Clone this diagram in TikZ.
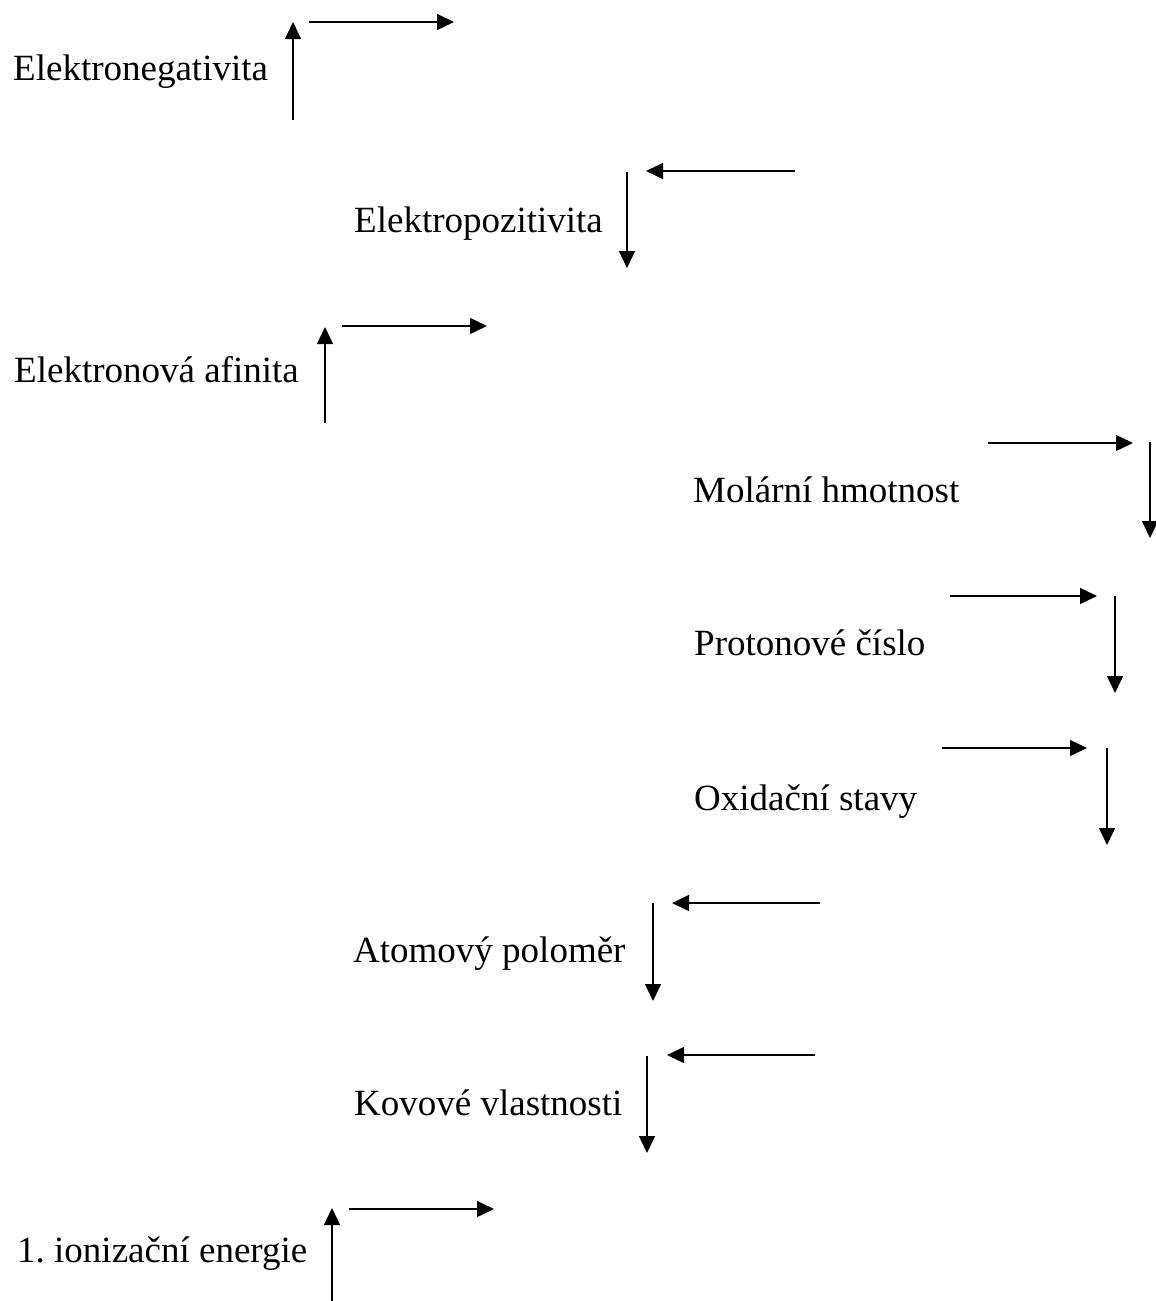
\documentclass[tikz,border=0pt]{standalone}
\usepackage{fontspec}
\setmainfont{Liberation Serif}
\usetikzlibrary{arrows.meta}
\tikzset{
  sipka/.style={line width=1.4pt, -{Triangle[length=17pt,width=16pt]}},
  popis/.style={anchor=base west, inner sep=0pt, font=\fontsize{37}{44}\selectfont}
}
\begin{document}
\begin{tikzpicture}[x=1pt, y=-1pt]
  \useasboundingbox (0,0) rectangle (1156,1301);

  \node[popis] (neg) at (13,80) {Elektronegativita};
  \node[popis] (poz) at (354,232) {Elektropozitivita};
  \node[popis] (afin) at (14,382) {Elektronová afinita};
  \node[popis] (mol) at (693,502) {Molární hmotnost};
  \node[popis] (prot) at (694,655) {Protonové číslo};
  \node[popis] (oxid) at (694,810) {Oxidační stavy};
  \node[popis] (atom) at (353,962) {Atomový poloměr};
  \node[popis] (kov) at (354,1115) {Kovové vlastnosti};
  \node[popis] (ion) at (17,1262) {1.\ ionizační energie};

  \coordinate (neg-u1) at (293,120);  \coordinate (neg-u2) at (293,22);
  \coordinate (neg-r1) at (309,22);   \coordinate (neg-r2) at (454,22);
  \coordinate (poz-d1) at (627,172);  \coordinate (poz-d2) at (627,268);
  \coordinate (poz-l1) at (795,171);  \coordinate (poz-l2) at (646,171);
  \coordinate (afin-u1) at (325,423); \coordinate (afin-u2) at (325,327);
  \coordinate (afin-r1) at (342,326); \coordinate (afin-r2) at (487,326);
  \coordinate (mol-r1) at (988,443);  \coordinate (mol-r2) at (1133,443);
  \coordinate (mol-d1) at (1150,442); \coordinate (mol-d2) at (1150,538);
  \coordinate (prot-r1) at (950,596); \coordinate (prot-r2) at (1097,596);
  \coordinate (prot-d1) at (1115,596); \coordinate (prot-d2) at (1115,693);
  \coordinate (oxid-r1) at (942,748); \coordinate (oxid-r2) at (1087,748);
  \coordinate (oxid-d1) at (1107,748); \coordinate (oxid-d2) at (1107,845);
  \coordinate (atom-l1) at (820,903); \coordinate (atom-l2) at (672,903);
  \coordinate (atom-d1) at (653,903); \coordinate (atom-d2) at (653,1001);
  \coordinate (kov-l1) at (815,1055); \coordinate (kov-l2) at (667,1055);
  \coordinate (kov-d1) at (647,1056); \coordinate (kov-d2) at (647,1153);
  \coordinate (ion-u1) at (332,1301); \coordinate (ion-u2) at (332,1208);
  \coordinate (ion-r1) at (349,1209); \coordinate (ion-r2) at (494,1209);

  \draw[sipka] (neg-u1) -- (neg-u2);
  \draw[sipka] (neg-r1) -- (neg-r2);
  \draw[sipka] (poz-d1) -- (poz-d2);
  \draw[sipka] (poz-l1) -- (poz-l2);
  \draw[sipka] (afin-u1) -- (afin-u2);
  \draw[sipka] (afin-r1) -- (afin-r2);
  \draw[sipka] (mol-r1) -- (mol-r2);
  \draw[sipka] (mol-d1) -- (mol-d2);
  \draw[sipka] (prot-r1) -- (prot-r2);
  \draw[sipka] (prot-d1) -- (prot-d2);
  \draw[sipka] (oxid-r1) -- (oxid-r2);
  \draw[sipka] (oxid-d1) -- (oxid-d2);
  \draw[sipka] (atom-l1) -- (atom-l2);
  \draw[sipka] (atom-d1) -- (atom-d2);
  \draw[sipka] (kov-l1) -- (kov-l2);
  \draw[sipka] (kov-d1) -- (kov-d2);
  \draw[sipka] (ion-u1) -- (ion-u2);
  \draw[sipka] (ion-r1) -- (ion-r2);
\end{tikzpicture}
\end{document}
